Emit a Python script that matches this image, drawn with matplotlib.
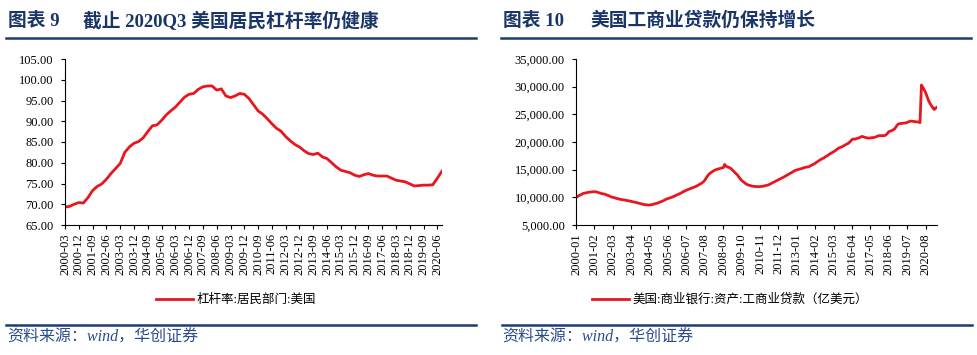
import pandas as pd
import matplotlib
matplotlib.use("Agg")
import matplotlib.pyplot as plt
from matplotlib.lines import Line2D
from matplotlib.ticker import FuncFormatter

plt.rcParams['font.family'] = ['Liberation Serif', 'Noto Sans CJK SC']
plt.rcParams['axes.unicode_minus'] = False

# Left chart: US household leverage ratio, quarterly from 2000-03 to 2020-09
leverage = [
    69.3, 69.5, 70.0, 70.4, 70.3, 71.6, 73.3, 74.3, 74.9, 76.0,
    77.4, 78.6, 79.8, 82.5, 83.8, 84.7, 85.1, 86.0, 87.5, 88.9,
    89.1, 90.2, 91.5, 92.5, 93.4, 94.6, 95.8, 96.5, 96.7, 97.7,
    98.3, 98.5, 98.5, 97.5, 97.8, 96.1, 95.7, 96.1, 96.7, 96.5,
    95.5, 94.0, 92.5, 91.7, 90.6, 89.4, 88.3, 87.6, 86.3, 85.3,
    84.4, 83.8, 82.9, 82.2, 82.0, 82.3, 81.4, 81.0, 80.0, 79.0,
    78.2, 77.9, 77.6, 77.0, 76.7, 77.1, 77.4, 77.0, 76.8, 76.8,
    76.8, 76.3, 75.8, 75.6, 75.4, 74.9, 74.4, 74.5, 74.6, 74.6,
    74.7, 76.3, 78.0,
]
quarters = pd.date_range('2000-03-31', periods=len(leverage), freq='QE').strftime('%Y-%m').tolist()

# Right chart: US commercial bank C&I loans (100 million USD), monthly from 2000-01
loans = [
    10000, 10150, 10300, 10420, 10550, 10700, 10760, 10820, 10870, 10920, 10950, 10980,
    11000, 11020, 11000, 10920, 10850, 10780, 10700, 10620, 10600, 10500, 10400, 10320,
    10200, 10050, 10000, 9950, 9850, 9780, 9700, 9650, 9600, 9550, 9520, 9480,
    9420, 9380, 9330, 9280, 9200, 9150, 9100, 9050, 8950, 8900, 8820, 8760,
    8700, 8680, 8640, 8600, 8620, 8650, 8700, 8780, 8850, 8900, 9000, 9100,
    9200, 9300, 9420, 9550, 9700, 9780, 9850, 9950, 10050, 10150, 10280, 10400,
    10500, 10620, 10750, 10900, 11050, 11150, 11300, 11400, 11500, 11600, 11700, 11800,
    11900, 12000, 12150, 12300, 12450, 12600, 12800, 13100, 13500, 13900, 14200, 14400,
    14600, 14750, 14900, 15000, 15100, 15150, 15250, 15300, 15350, 15950, 15600, 15500,
    15400, 15300, 15050, 14800, 14550, 14300, 14050, 13700, 13350, 13050, 12850, 12650,
    12450, 12300, 12200, 12130, 12080, 12000, 11970, 11950, 11930, 11930, 11940, 11960,
    12000, 12050, 12120, 12180, 12260, 12400, 12520, 12650, 12780, 12900, 13050, 13180,
    13280, 13420, 13560, 13700, 13850, 14000, 14150, 14300, 14450, 14600, 14750, 14880,
    14950, 15020, 15090, 15150, 15250, 15350, 15420, 15480, 15500, 15600, 15750, 15900,
    16000, 16180, 16350, 16550, 16700, 16850, 17000, 17100, 17300, 17450, 17600, 17800,
    17950, 18100, 18250, 18400, 18600, 18800, 18950, 19050, 19150, 19300, 19450, 19600,
    19700, 19900, 20150, 20450, 20550, 20500, 20600, 20700, 20750, 20900, 21000, 20950,
    20850, 20780, 20720, 20700, 20750, 20780, 20800, 20850, 20950, 21050, 21150, 21150,
    21130, 21150, 21150, 21300, 21550, 21870, 21950, 22050, 22200, 22360, 22700, 23100,
    23300, 23330, 23350, 23400, 23420, 23450, 23550, 23650, 23750, 23780, 23750, 23700,
    23650, 23640, 23600, 23500, 30300, 29900, 29400, 28900, 28200, 27500, 27000, 26600,
    26200, 25870, 26100, 26290,
]
months = pd.period_range('2000-01', periods=len(loans), freq='M').strftime('%Y-%m').tolist()

title_heads = ['图表 9', '图表 10']
title_texts = ['截止 2020Q3 美国居民杠杆率仍健康', '美国工商业贷款仍保持增长']
legend_labels = ['杠杆率:居民部门:美国', '美国:商业银行:资产:工商业贷款（亿美元）']
source = '资料来源：wind，华创证券'

RED = '#e8161f'
NAVY = '#1f3b73'
TITLE_C = '#1a3668'
SRC_C = '#2b4c8c'

W, H = 978, 355
fig = plt.figure(figsize=(W / 100, H / 100), dpi=100)


def fx(px):
    return px / W


def fy(py):
    return 1 - py / H


def style_axes(ax):
    for s in ['top', 'right']:
        ax.spines[s].set_visible(False)
    for s in ['left', 'bottom']:
        ax.spines[s].set_linewidth(0.8)
    ax.tick_params(axis='both', direction='out', length=3, width=0.8, labelsize=9)
    ax.tick_params(axis='y', pad=5)
    ax.tick_params(axis='x', labelrotation=90, pad=3)


# left panel
ax1 = fig.add_axes([fx(65), fy(225), fx(442 - 65), (225 - 59) / H])
x1 = list(range(len(leverage)))
ax1.plot(x1, leverage, color=RED, lw=2.0, label=legend_labels[0])
ax1.set_xlim(0, len(leverage) - 1)
ax1.set_ylim(65, 105)
ax1.set_yticks(range(65, 106, 5))
ax1.yaxis.set_major_formatter(FuncFormatter(lambda v, p: f'{v:.2f}'))
ax1.set_xticks(x1[::3])
ax1.set_xticklabels(quarters[::3])
style_axes(ax1)
ax1.legend(loc='center', bbox_to_anchor=(fx(236), fy(300)), bbox_transform=fig.transFigure,
           frameon=False, fontsize=9, handlelength=3.0, handletextpad=0.3)

# right panel
ax2 = fig.add_axes([fx(576), fy(225), fx(937 - 576), (225 - 59) / H])
x2 = list(range(len(loans)))
ax2.plot(x2, loans, color=RED, lw=2.0, label=legend_labels[1])
ax2.set_xlim(0, len(loans) - 1)
ax2.set_ylim(5000, 35000)
ax2.set_yticks(range(5000, 35001, 5000))
ax2.yaxis.set_major_formatter(FuncFormatter(lambda v, p: f'{v:,.2f}'))
ax2.set_xticks(x2[::13])
ax2.set_xticklabels(months[::13])
style_axes(ax2)
ax2.legend(loc='center', bbox_to_anchor=(fx(730), fy(300)), bbox_transform=fig.transFigure,
           frameon=False, fontsize=9, handlelength=3.0, handletextpad=0.3)

# titles, rules and source notes
panels = [(8, 83, (6, 476), (6, 476)), (503, 590, (501, 971), (502, 972))]
for (tx, tx2, (l0, l1), (s0, s1)), head, text in zip(panels, title_heads, title_texts):
    fig.text(fx(tx), fy(21), head, fontsize=13.5, fontweight='bold', color=TITLE_C,
             va='center', ha='left')
    fig.text(fx(tx2), fy(21), text, fontsize=13.5, fontweight='bold', color=TITLE_C,
             va='center', ha='left')
    fig.add_artist(Line2D([fx(l0), fx(l1)], [fy(37.5), fy(37.5)], color=NAVY, lw=1.8))
    fig.add_artist(Line2D([fx(s0), fx(s1)], [fy(325), fy(325)], color=NAVY, lw=1.8))
    fig.text(fx(tx - 1), fy(338), source, fontsize=11.5, style='italic', color=SRC_C,
             va='center', ha='left')

fig.savefig('out.png', dpi=100)
